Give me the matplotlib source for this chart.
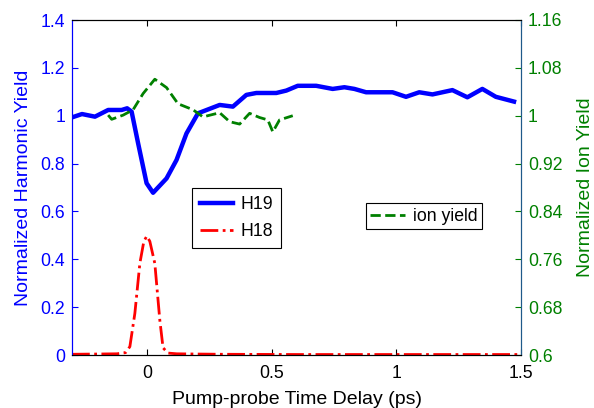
import matplotlib
matplotlib.use("Agg")
import matplotlib.pyplot as plt
from matplotlib.lines import Line2D

plt.rcParams['font.family'] = ['Liberation Sans', 'DejaVu Sans']

# H19 harmonic yield (left axis)
t_h19 = [-0.30, -0.26, -0.208, -0.155, -0.101, -0.079, -0.061, -0.035, -0.001, 0.025,
         0.079, 0.119, 0.159, 0.205, 0.292, 0.345, 0.399, 0.439, 0.519, 0.559,
         0.605, 0.679, 0.745, 0.792, 0.832, 0.879, 0.985, 1.039, 1.092, 1.145,
         1.225, 1.285, 1.345, 1.399, 1.472]
v_h19 = [0.993, 1.007, 0.996, 1.024, 1.024, 1.031, 1.017, 0.885, 0.718, 0.678,
         0.738, 0.815, 0.926, 1.010, 1.045, 1.038, 1.087, 1.095, 1.095, 1.105,
         1.125, 1.125, 1.112, 1.119, 1.112, 1.098, 1.098, 1.079, 1.098, 1.089,
         1.107, 1.077, 1.112, 1.079, 1.059]

# H18 harmonic yield (left axis)
t_h18 = [-0.30, -0.20, -0.12, -0.085, -0.068, -0.048, -0.028, -0.012, 0.0, 0.012,
         0.032, 0.052, 0.065, 0.085, 0.12, 0.20, 0.30, 0.60, 1.00, 1.50]
v_h18 = [0.003, 0.004, 0.005, 0.010, 0.035, 0.174, 0.383, 0.475, 0.497, 0.475,
         0.383, 0.146, 0.030, 0.008, 0.005, 0.004, 0.003, 0.002, 0.002, 0.002]

# Ion yield (right axis)
t_ion = [-0.155, -0.141, -0.095, -0.055, -0.015, 0.032, 0.079, 0.125, 0.185, 0.225,
         0.292, 0.332, 0.372, 0.412, 0.452, 0.485, 0.505, 0.532, 0.585]
v_ion = [1.001, 0.994, 1.001, 1.010, 1.037, 1.061, 1.047, 1.020, 1.010, 0.998,
         1.005, 0.990, 0.986, 1.004, 0.997, 0.993, 0.973, 0.993, 1.000]

xticks = [0, 0.5, 1, 1.5]
xtick_labels = ['0', '0.5', '1', '1.5']
left_ticks = [0, 0.2, 0.4, 0.6, 0.8, 1.0, 1.2, 1.4]
left_labels = ['0', '0.2', '0.4', '0.6', '0.8', '1', '1.2', '1.4']
right_ticks = [0.6, 0.68, 0.76, 0.84, 0.92, 1.0, 1.08, 1.16]
right_labels = ['0.6', '0.68', '0.76', '0.84', '0.92', '1', '1.08', '1.16']

blue = (0, 0, 1)
green = (0, 0.5, 0)
red = (1, 0, 0)

TICK_FS = 12.7
LABEL_FS = 14
LEG_FS = 12.7

fig = plt.figure(figsize=(5.94, 4.08), dpi=100)
ax = fig.add_axes([72/594, 1 - 355/408, (521-72)/594, (355-20)/408])
ax2 = ax.twinx()

ax.plot(t_h19, v_h19, color=blue, lw=3.2, label='H19', zorder=3)
ax.plot(t_h18, v_h18, color=red, lw=2.0, ls='-.', label='H18', zorder=2)
ax2.plot(t_ion, v_ion, color=green, lw=2.0, ls='--', label='ion yield')

ax.set_xlim(-0.3, 1.5)
ax.set_ylim(0, 1.4)
ax2.set_ylim(0.6, 1.16)
ax.set_xticks(xticks)
ax.set_xticklabels(xtick_labels)
ax.set_yticks(left_ticks)
ax.set_yticklabels(left_labels)
ax2.set_yticks(right_ticks)
ax2.set_yticklabels(right_labels)

ax.tick_params(axis='x', direction='in', top=True, length=4, labelsize=TICK_FS, colors='black', pad=7)
ax.tick_params(axis='y', direction='in', length=4, labelsize=TICK_FS, colors=blue, pad=5)
ax2.tick_params(axis='y', direction='in', length=4, labelsize=TICK_FS, colors=green, pad=5)

for a in (ax, ax2):
    a.spines['top'].set_color('black')
    a.spines['bottom'].set_color('black')
    a.spines['left'].set_color(blue)
    a.spines['right'].set_color('#1f5a8a')

ax.set_xlabel('Pump-probe Time Delay (ps)', fontsize=LABEL_FS, labelpad=6.5)
ax.set_ylabel('Normalized Harmonic Yield', fontsize=LABEL_FS, color=blue, labelpad=6)
ax2.set_ylabel('Normalized Ion Yield', fontsize=LABEL_FS, color=green, labelpad=10.5)

leg1 = ax2.legend(handles=[Line2D([], [], color=blue, lw=3.2, label='H19'),
                           Line2D([], [], color=red, lw=2.0, ls='-.', label='H18')],
                  loc='upper left', bbox_to_anchor=((192.3-72)/449, 1 - (188.3-20)/335),
                  borderaxespad=0, fancybox=False, edgecolor='black', framealpha=1,
                  fontsize=LEG_FS, handlelength=1.85, borderpad=0.45, labelspacing=0.55,
                  handletextpad=0.45)
leg1.get_frame().set_linewidth(0.8)
ax2.add_artist(leg1)
leg2 = ax2.legend(handles=[Line2D([], [], color=green, lw=2.0, ls='--', label='ion yield')],
                  loc='upper left', bbox_to_anchor=((365.7-72)/449, 1 - (203.3-20)/335),
                  borderaxespad=0, fancybox=False, edgecolor='black', framealpha=1,
                  fontsize=LEG_FS, handlelength=1.95, borderpad=0.25, handletextpad=0.5)
leg2.get_frame().set_linewidth(0.8)

fig.savefig('out.png', dpi=100)
